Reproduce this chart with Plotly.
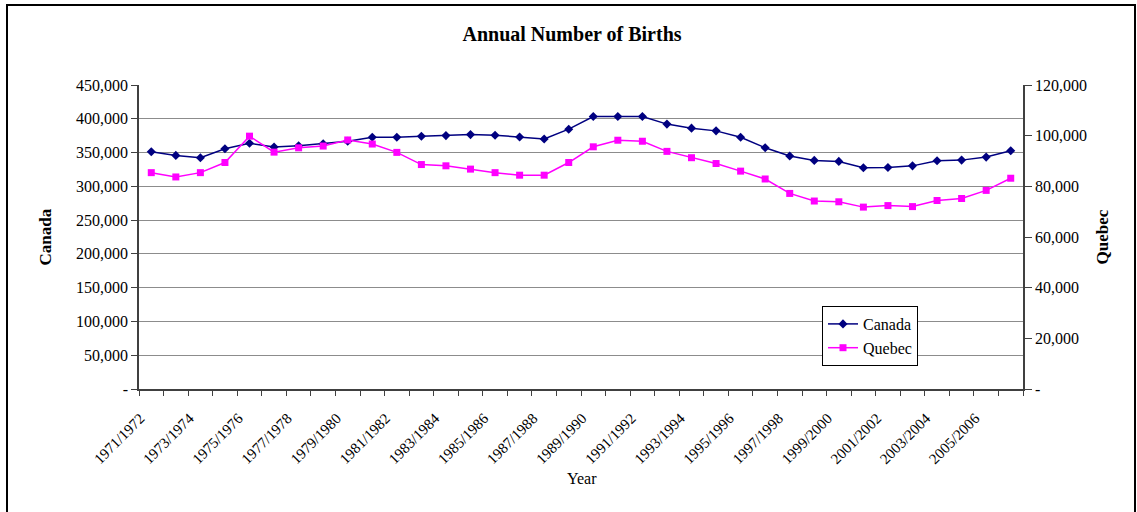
import plotly.graph_objects as go

years = [f"{y}/{y+1}" for y in range(1971, 2007)]

canada = [351200, 345800, 342200, 355700, 363700, 358200, 360100, 363100, 366700,
          372700, 372700, 374200, 375100, 376600, 375700, 373100, 370100, 384600,
          403400, 403400, 403400, 392100, 386100, 382100, 372700, 357200, 344800,
          338400, 336900, 327400, 327900, 330300, 337800, 338800, 343300, 352700]

quebec = [85400, 83700, 85400, 89400, 99800, 93500, 95200, 95900, 98300,
          96700, 93400, 88600, 88100, 86800, 85400, 84400, 84400, 89400,
          95600, 98200, 97800, 93800, 91300, 89000, 86000, 82900, 77200,
          74200, 73900, 71800, 72400, 72000, 74400, 75200, 78400, 83200]

left_ticks = list(range(0, 450001, 50000))
right_ticks = list(range(0, 120001, 20000))

def fmt(v):
    return "-" if v == 0 else f"{v:,}"

FONT = "Liberation Serif, Times New Roman, serif"

W, H = 1137, 512
L, R, T, B = 139, 1023, 85, 389
pw, ph = R - L, B - T

def px(x):
    return (x - L) / pw

def py(y):
    return (B - y) / ph

fig = go.Figure()
fig.add_trace(go.Scatter(
    x=years, y=canada, name="Canada", mode="lines+markers",
    line=dict(color="#000080", width=1.5),
    marker=dict(symbol="diamond", size=7, color="#000080"),
    yaxis="y"))
fig.add_trace(go.Scatter(
    x=years, y=quebec, name="Quebec", mode="lines+markers",
    line=dict(color="#FF00FF", width=1.5),
    marker=dict(symbol="square", size=7, color="#FF00FF"),
    yaxis="y2"))

ticktext_x = [y if i % 2 == 0 else "" for i, y in enumerate(years)]

fig.update_layout(
    width=W, height=H,
    margin=dict(l=L, r=W - R, t=T, b=H - B, autoexpand=False),
    paper_bgcolor="white", plot_bgcolor="white",
    font=dict(family=FONT, size=16, color="black"),
    title=dict(text="<b>Annual Number of Births</b>", x=572 / W, xanchor="center",
               y=1 - 34 / H, yanchor="middle", font=dict(size=20, family=FONT)),
    xaxis=dict(type="category", categoryorder="array", categoryarray=years,
               range=[-0.5, len(years) - 0.5],
               tickmode="array", tickvals=years, ticktext=ticktext_x,
               tickson="boundaries", ticks="outside", ticklen=5, tickcolor="#404040",
               tickangle=-45, ticklabelstandoff=13, ticklabelshift=-11,
               showline=True, linecolor="#404040", linewidth=1.5,
               showgrid=False, zeroline=False, tickfont=dict(size=15), automargin=False),
    yaxis=dict(range=[0, 450000], tickmode="array", tickvals=left_ticks,
               ticktext=[fmt(v) for v in left_ticks], ticks="outside", ticklen=6,
               tickcolor="#404040", showline=True, linecolor="#404040", linewidth=1.5,
               showgrid=True, gridcolor="#8c8c8c", gridwidth=1, zeroline=False,
               tickfont=dict(size=16), automargin=False),
    yaxis2=dict(range=[0, 120000], overlaying="y", side="right", tickmode="array",
                tickvals=right_ticks, ticktext=[fmt(v) for v in right_ticks],
                ticks="outside", ticklen=7, tickcolor="#404040", showline=True,
                linecolor="#404040", linewidth=1.5, showgrid=False, zeroline=False,
                tickfont=dict(size=16), automargin=False),
    legend=dict(x=px(822), y=py(306), xanchor="left", yanchor="top",
                bgcolor="white", bordercolor="black", borderwidth=1,
                font=dict(size=16, family=FONT), tracegroupgap=0, itemwidth=30),
    showlegend=True,
)

fig.add_annotation(text="<b>Canada</b>", x=px(33), y=py(237),
                   xref="paper", yref="paper", textangle=-90, showarrow=False,
                   font=dict(size=17, family=FONT))
fig.add_annotation(text="<b>Quebec</b>", x=px(1113), y=py(237),
                   xref="paper", yref="paper", textangle=-90, showarrow=False,
                   font=dict(size=17, family=FONT))
fig.add_annotation(text="Year", x=px(582), y=py(489),
                   xref="paper", yref="paper", showarrow=False,
                   font=dict(size=16, family=FONT))

fig.add_shape(type="rect", xref="paper", yref="paper",
              x0=px(7), x1=px(1135),
              y0=py(530), y1=py(5),
              line=dict(color="black", width=2), fillcolor="rgba(0,0,0,0)", layer="below")

fig.write_html("out.html", config={"displayModeBar": False},
               post_script="document.body.style.margin='0';document.body.style.overflow='hidden';")
